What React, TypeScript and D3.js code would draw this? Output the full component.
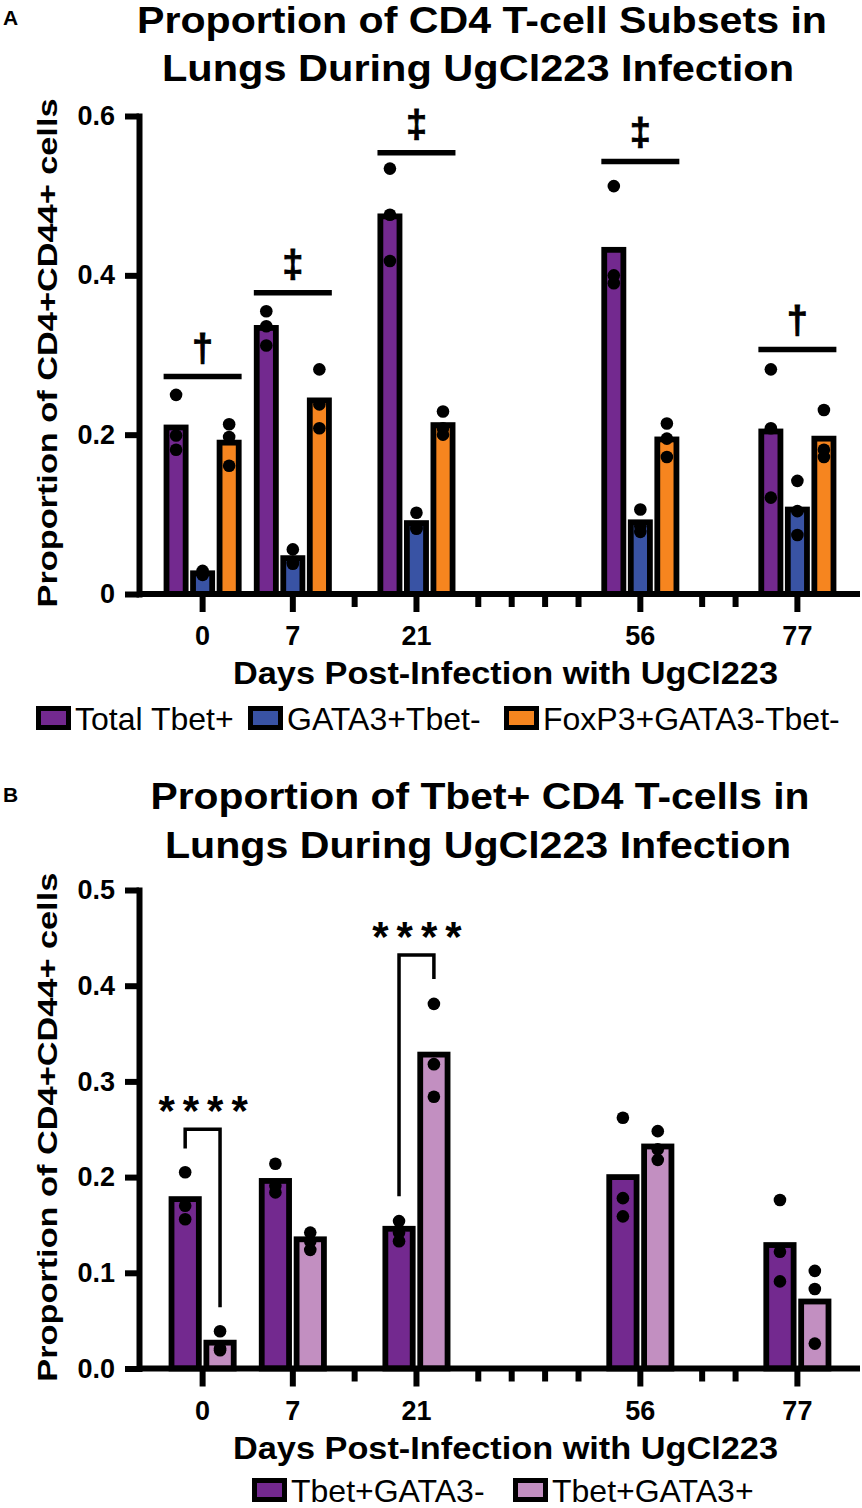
import { useEffect, useRef } from "react";
import * as d3 from "d3";

const FONT = "'Liberation Sans', Arial, Helvetica, sans-serif";

// one x slot per week; weeks with data get a wide slot, empty weeks a narrow one
const weekSlots = [0, 7, 14, 21, 28, 35, 42, 49, 56, 63, 70, 77];
const days = [0, 7, 21, 56, 77];

/* ---------------- PANEL A DATA ---------------- */
const seriesA = ["Total Tbet+", "GATA3+Tbet-", "FoxP3+GATA3-Tbet-"];
const colorsA = ["#73298F", "#3953A4", "#F6851F"];
const totalTbetMean = [0.209, 0.334, 0.474, 0.432, 0.204];
const gata3Mean = [0.026, 0.045, 0.089, 0.09, 0.106];
const foxp3Mean = [0.19, 0.243, 0.212, 0.194, 0.195];
const totalTbetPts = [
  [0.25, 0.199, 0.181],
  [0.355, 0.336, 0.312],
  [0.534, 0.476, 0.418],
  [0.512, 0.4, 0.39],
  [0.282, 0.208, 0.121],
];
const gata3Pts = [
  [0.029, 0.025, 0.024],
  [0.056, 0.04, 0.038],
  [0.102, 0.083, 0.082],
  [0.106, 0.085, 0.078],
  [0.142, 0.104, 0.074],
];
const foxp3Pts = [
  [0.213, 0.197, 0.161],
  [0.282, 0.238, 0.208],
  [0.229, 0.208, 0.2],
  [0.214, 0.195, 0.172],
  [0.231, 0.181, 0.172],
];
const yTicksA = [0, 0.2, 0.4, 0.6];
const sigDaysA = [0, 7, 21, 56, 77];
const sigValuesA = [0.273, 0.378, 0.554, 0.543, 0.307];
const sigSymbolsA = ["†", "‡", "‡", "‡", "†"];

/* ---------------- PANEL B DATA ---------------- */
const seriesB = ["Tbet+GATA3-", "Tbet+GATA3+"];
const colorsB = ["#73298F", "#C28FC1"];
const gata3NegMean = [0.177, 0.196, 0.146, 0.2, 0.129];
const gata3PosMean = [0.027, 0.135, 0.328, 0.232, 0.07];
const gata3NegPts = [
  [0.205, 0.17, 0.156],
  [0.214, 0.191, 0.184],
  [0.154, 0.142, 0.133],
  [0.262, 0.178, 0.159],
  [0.176, 0.122, 0.091],
];
const gata3PosPts = [
  [0.039, 0.021, 0.019],
  [0.142, 0.133, 0.124],
  [0.381, 0.318, 0.284],
  [0.248, 0.229, 0.218],
  [0.102, 0.083, 0.026],
];
const yTicksB = [0, 0.1, 0.2, 0.3, 0.4, 0.5];
// bracket: top value, left leg end, right leg end
const sigDaysB = [0, 21];
const sigTopB = [0.25, 0.432];
const sigLeftB = [0.23, 0.18];
const sigRightB = [0.064, 0.407];
const sigLabelB = "****";

const xTitle = "Days Post-Infection with UgCl223";
const yTitle = "Proportion of CD4+CD44+ cells";

interface PanelCfg {
  letter: string;
  letterY: number;
  titles: string[];
  titleY: number[];
  titleLen: number[];
  titleX: number[];
  yMax: number;
  yTop: number;
  yBottom: number;
  yTicks: number[];
  tickFmt: (d: number) => string;
  series: string[];
  colors: string[];
  means: number[][];
  points: number[][][];
  barsWidth: number;
  pad: number;
  legendX: number[];
  legendY: number;
}

function drawPanel(svg: d3.Selection<SVGSVGElement, unknown, null, undefined>, cfg: PanelCfg) {
  const g = svg.append("g");
  const axisX = 139;
  const axisRight = 860;

  // cumulative slot widths -> pixel centres
  const units = weekSlots.map(d => (days.includes(d) ? 2.7 : 1));
  const centres = new Map<number, number>();
  let acc = 0;
  weekSlots.forEach((d, i) => {
    centres.set(d, acc + units[i] / 2);
    acc += units[i];
  });
  const xu = d3.scaleLinear().domain([0, acc]).range([157.5, 842.5]);
  const xc = (d: number) => xu(centres.get(d)!);

  const y = d3.scaleLinear().domain([0, cfg.yMax]).range([cfg.yBottom, cfg.yTop]);
  const band = d3
    .scaleBand()
    .domain(cfg.series)
    .range([-cfg.barsWidth / 2, cfg.barsWidth / 2])
    .paddingInner(cfg.pad);
  const sw = 5.8;

  /* ---------------- BARS ---------------- */
  cfg.series.forEach((s, si) => {
    g.selectAll(null)
      .data(days)
      .enter()
      .append("rect")
      .attr("x", d => xc(d) + band(s)! + sw / 2)
      .attr("y", (_, i) => y(cfg.means[si][i]))
      .attr("width", band.bandwidth() - sw)
      .attr("height", (_, i) => y(0) - y(cfg.means[si][i]))
      .attr("fill", cfg.colors[si])
      .attr("stroke", "#000")
      .attr("stroke-width", sw);
  });

  /* ---------------- DOTS ---------------- */
  cfg.series.forEach((s, si) => {
    days.forEach((d, i) => {
      g.selectAll(null)
        .data(cfg.points[si][i])
        .enter()
        .append("circle")
        .attr("cx", xc(d) + band(s)! + band.bandwidth() / 2)
        .attr("cy", v => y(v))
        .attr("r", 6.3)
        .attr("fill", "#000");
    });
  });

  /* ---------------- AXES ---------------- */
  const gy = g
    .append("g")
    .attr("transform", `translate(${axisX},0)`)
    .call(
      d3
        .axisLeft(y)
        .tickValues(cfg.yTicks)
        .tickSize(14)
        .tickSizeOuter(0)
        .tickPadding(10)
        .tickFormat(d => cfg.tickFmt(Number(d)))
    );
  gy.select(".domain").attr("stroke-width", 6).attr("stroke-linecap", "square");
  gy.selectAll(".tick line").attr("stroke-width", 6);
  gy.selectAll(".tick text")
    .attr("font-family", FONT)
    .attr("font-weight", "bold")
    .attr("font-size", 27)
    .attr("fill", "#000");

  g.append("line")
    .attr("x1", axisX)
    .attr("x2", axisRight)
    .attr("y1", y(0))
    .attr("y2", y(0))
    .attr("stroke", "#000")
    .attr("stroke-width", 6);

  g.selectAll(null)
    .data(weekSlots)
    .enter()
    .append("line")
    .attr("x1", d => xc(d))
    .attr("x2", d => xc(d))
    .attr("y1", y(0))
    .attr("y2", d => y(0) + (days.includes(d) ? 18 : 13))
    .attr("stroke", "#000")
    .attr("stroke-width", 6);

  g.selectAll(null)
    .data(days)
    .enter()
    .append("text")
    .attr("x", d => xc(d))
    .attr("y", y(0) + 51)
    .attr("text-anchor", "middle")
    .attr("font-family", FONT)
    .attr("font-weight", "bold")
    .attr("font-size", 27)
    .text(d => String(d));

  g.append("text")
    .attr("x", 505.5)
    .attr("y", y(0) + 90)
    .attr("text-anchor", "middle")
    .attr("font-family", FONT)
    .attr("font-weight", "bold")
    .attr("font-size", 31)
    .attr("textLength", 545)
    .attr("lengthAdjust", "spacingAndGlyphs")
    .text(xTitle);

  g.append("text")
    .attr("transform", `translate(57,${(cfg.yTop + cfg.yBottom) / 2 - 2}) rotate(-90)`)
    .attr("text-anchor", "middle")
    .attr("font-family", FONT)
    .attr("font-weight", "bold")
    .attr("font-size", 28)
    .attr("textLength", 509)
    .attr("lengthAdjust", "spacingAndGlyphs")
    .text(yTitle);

  /* ---------------- TITLES ---------------- */
  g.append("text")
    .attr("x", 3)
    .attr("y", cfg.letterY)
    .attr("font-family", FONT)
    .attr("font-weight", "bold")
    .attr("font-size", 21)
    .text(cfg.letter);

  cfg.titles.forEach((t, i) => {
    g.append("text")
      .attr("x", cfg.titleX[i])
      .attr("y", cfg.titleY[i])
      .attr("text-anchor", "middle")
      .attr("font-family", FONT)
      .attr("font-weight", "bold")
      .attr("font-size", 36)
      .attr("textLength", cfg.titleLen[i])
      .attr("lengthAdjust", "spacingAndGlyphs")
      .text(t);
  });

  /* ---------------- LEGEND ---------------- */
  cfg.series.forEach((s, si) => {
    const lx = cfg.legendX[si];
    g.append("rect")
      .attr("x", lx + 2.5)
      .attr("y", cfg.legendY - 24 + 2.5)
      .attr("width", 30)
      .attr("height", 19)
      .attr("fill", cfg.colors[si])
      .attr("stroke", "#000")
      .attr("stroke-width", 5);
    g.append("text")
      .attr("x", lx + 39)
      .attr("y", cfg.legendY)
      .attr("font-family", FONT)
      .attr("font-size", 32)
      .text(s);
  });

  return { g, xc, y, band };
}

export default function App() {
  const ref = useRef<SVGSVGElement | null>(null);

  useEffect(() => {
    if (!ref.current) return;
    const svg = d3.select(ref.current);
    svg.selectAll("*").remove();

    const fmtA = (d: number) => (d === 0 ? "0" : d3.format(".1f")(d));
    const fmtB = (d: number) => d3.format(".1f")(d);

    const a = drawPanel(svg, {
      letter: "A",
      letterY: 25,
      titles: ["Proportion of CD4 T-cell Subsets in", "Lungs During UgCl223 Infection"],
      titleY: [33, 81],
      titleLen: [690, 632],
      titleX: [482, 478],
      yMax: 0.6,
      yTop: 116,
      yBottom: 594,
      yTicks: yTicksA,
      tickFmt: fmtA,
      series: seriesA,
      colors: colorsA,
      means: [totalTbetMean, gata3Mean, foxp3Mean],
      points: [totalTbetPts, gata3Pts, foxp3Pts],
      barsWidth: 78,
      pad: 0.06,
      legendX: [36, 248, 504],
      legendY: 730,
    });

    // significance lines, panel A
    sigDaysA.forEach((d, i) => {
      const yy = a.y(sigValuesA[i]);
      a.g.append("line")
        .attr("x1", a.xc(d) - 39)
        .attr("x2", a.xc(d) + 39)
        .attr("y1", yy)
        .attr("y2", yy)
        .attr("stroke", "#000")
        .attr("stroke-width", 5.5);
      a.g.append("text")
        .attr("x", a.xc(d))
        .attr("y", yy - 16)
        .attr("text-anchor", "middle")
        .attr("font-family", FONT)
        .attr("font-weight", "bold")
        .attr("font-size", 38)
        .attr("stroke", "#000")
        .attr("stroke-width", 0.8)
        .text(sigSymbolsA[i]);
    });

    const b = drawPanel(svg, {
      letter: "B",
      letterY: 802,
      titles: ["Proportion of Tbet+ CD4 T-cells in", "Lungs During UgCl223 Infection"],
      titleY: [809, 858],
      titleLen: [659, 626],
      titleX: [480, 478],
      yMax: 0.5,
      yTop: 890,
      yBottom: 1368.5,
      yTicks: yTicksB,
      tickFmt: fmtB,
      series: seriesB,
      colors: colorsB,
      means: [gata3NegMean, gata3PosMean],
      points: [gata3NegPts, gata3PosPts],
      barsWidth: 68,
      pad: 0.05,
      legendX: [252, 513],
      legendY: 1502,
    });

    // significance brackets, panel B
    sigDaysB.forEach((d, i) => {
      const xl = b.xc(d) + b.band(seriesB[0])! + b.band.bandwidth() / 2;
      const xr = b.xc(d) + b.band(seriesB[1])! + b.band.bandwidth() / 2;
      const path = d3.path();
      path.moveTo(xl, b.y(sigLeftB[i]));
      path.lineTo(xl, b.y(sigTopB[i]));
      path.lineTo(xr, b.y(sigTopB[i]));
      path.lineTo(xr, b.y(sigRightB[i]));
      b.g.append("path")
        .attr("d", path.toString())
        .attr("fill", "none")
        .attr("stroke", "#000")
        .attr("stroke-width", 3.5);
      b.g.append("text")
        .attr("x", (xl + xr) / 2 + 4.5)
        .attr("y", b.y(sigTopB[i]) - 4)
        .attr("text-anchor", "middle")
        .attr("font-family", FONT)
        .attr("font-weight", "bold")
        .attr("font-size", 42)
        .attr("letter-spacing", 8)
        .text(sigLabelB);
    });
  }, []);

  return (
    <svg
      ref={ref}
      width={862}
      height={1508}
      style={{ position: "absolute", left: 0, top: 0, background: "#fff" }}
    />
  );
}
